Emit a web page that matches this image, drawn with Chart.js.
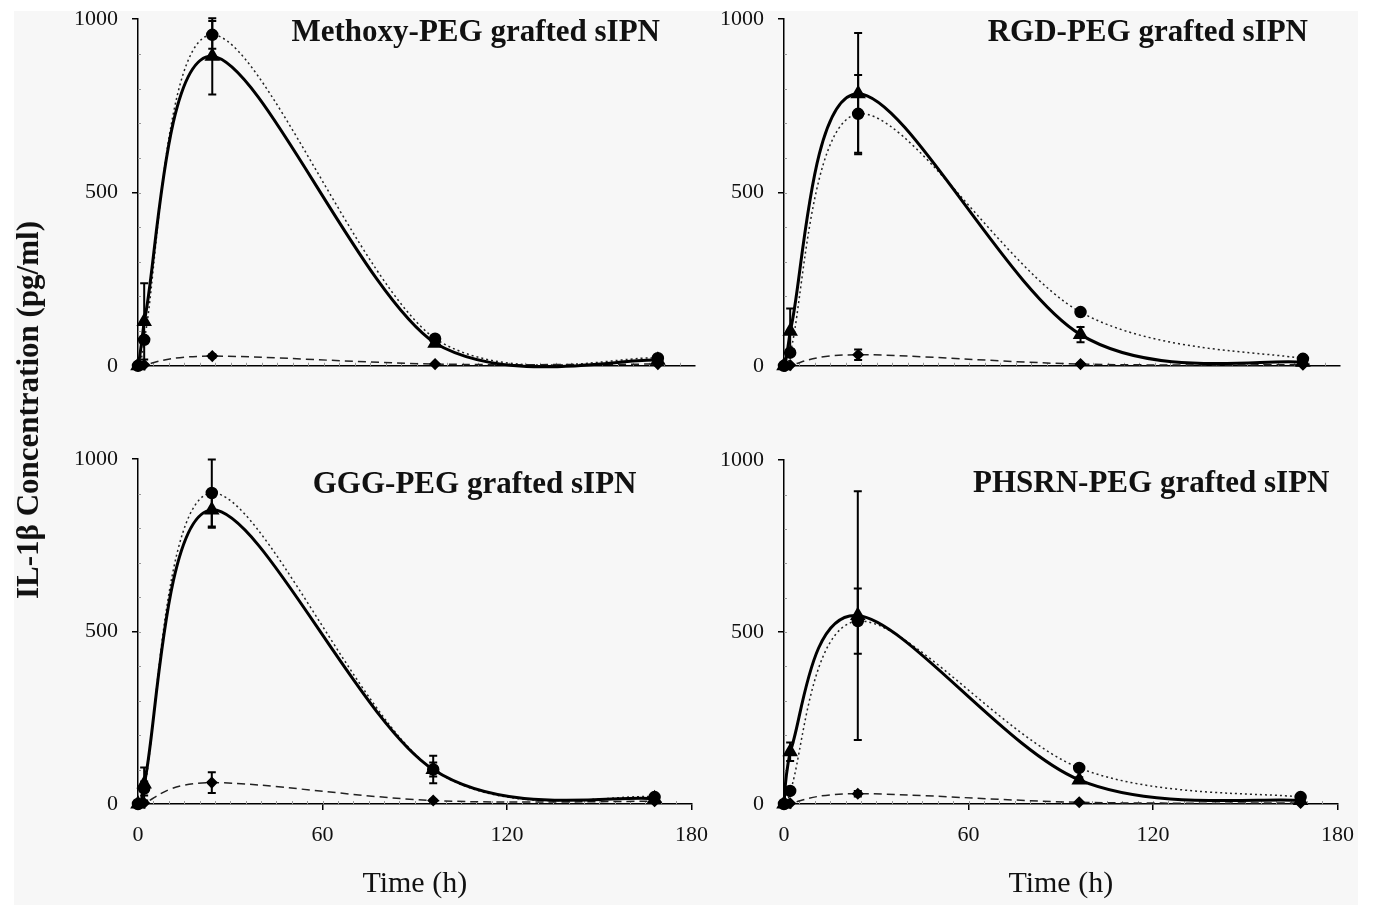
<!DOCTYPE html>
<html>
<head>
<meta charset="utf-8">
<title>IL-1β concentration over time</title>
<script src="https://cdn.jsdelivr.net/npm/chart.js@4.4.1/dist/chart.umd.min.js"></script>
<style>
  body { margin: 0; background: #fff; width: 1374px; height: 905px; overflow: hidden; position: relative; }
  #panel { position: absolute; left: 14px; top: 11px; width: 1344px; height: 894px; background: #f7f7f7; }
  canvas { position: absolute; }
  #yLabel {
    position: absolute; left: 28px; top: 410px;
    transform: translate(-50%, -50%) rotate(-90deg);
    font: bold 31px "Liberation Serif", "Times New Roman", serif;
    color: #111; white-space: nowrap;
  }
</style>
</head>
<body>
<div id="panel"></div>
<canvas id="chartTL" width="680" height="401" style="left:40px;top:-8px"></canvas>
<canvas id="chartTR" width="680" height="401" style="left:686px;top:-8px"></canvas>
<canvas id="chartBL" width="680" height="473" style="left:40px;top:432px"></canvas>
<canvas id="chartBR" width="680" height="472" style="left:686px;top:433px"></canvas>
<div id="yLabel">IL-1β Concentration (pg/ml)</div>

<script>
// sampling times (h) and axis ticks
const times = [0, 2, 24, 96, 168];
const xTicks = [0, 60, 120, 180];
const yTicks = [0, 500, 1000];
const titles = ['Methoxy-PEG grafted sIPN', 'RGD-PEG grafted sIPN', 'GGG-PEG grafted sIPN', 'PHSRN-PEG grafted sIPN'];

// Methoxy-PEG
const methoxyTri = [0, 128, 893, 65, 16];
const methoxyTriErr = [0, 110, 110, 8, 4];
const methoxyCirc = [0, 75, 955, 78, 22];
const methoxyCircErr = [0, 0, 40, 5, 3];
const methoxyDia = [0, 3, 28, 5, 5];
const methoxyDiaErr = [0, 2, 5, 2, 2];

// RGD-PEG
const rgdTri = [0, 100, 785, 90, 10];
const rgdTriErr = [0, 65, 175, 22, 3];
const rgdCirc = [0, 38, 727, 155, 20];
const rgdCircErr = [0, 10, 112, 8, 3];
const rgdDia = [0, 2, 32, 5, 3];
const rgdDiaErr = [0, 2, 15, 2, 1];

// GGG-PEG
const gggTri = [0, 58, 853, 100, 15];
const gggTriErr = [0, 48, 52, 40, 5];
const gggCirc = [0, 45, 902, 100, 20];
const gggCircErr = [0, 20, 97, 20, 5];
const gggDia = [0, 3, 62, 10, 8];
const gggDiaErr = [0, 2, 30, 3, 3];

// PHSRN-PEG
const phsrnTri = [0, 152, 548, 70, 10];
const phsrnTriErr = [0, 27, 362, 8, 3];
const phsrnCirc = [0, 38, 532, 105, 20];
const phsrnCircErr = [0, 5, 95, 5, 3];
const phsrnDia = [0, 2, 30, 5, 3];
const phsrnDiaErr = [0, 1, 8, 1, 1];

const serif = '"Liberation Serif", "Times New Roman", serif';

// spreadsheet-style smoothing: uniform Catmull-Rom control points on the line's own points
const smoothLines = {
    id: 'smoothLines',
    beforeDatasetDraw(chart, args) {
        const meta = args.meta;
        const pts = meta.data;
        const area = chart.chartArea;
        const cx = v => Math.min(Math.max(v, area.left), area.right);
        const cy = v => Math.min(Math.max(v, area.top), area.bottom + 20);
        pts.forEach((p, i) => {
            const prev = pts[i - 1] || p;
            const next = pts[i + 1] || p;
            const dx = (next.x - prev.x) / 6;
            const dy = (next.y - prev.y) / 6;
            p.cp1x = cx(p.x - dx); p.cp1y = cy(p.y - dy);
            p.cp2x = cx(p.x + dx); p.cp2y = cy(p.y + dy);
        });
        meta.dataset._pointsUpdated = true;
    }
};

// vertical error bars with caps
const errorBars = {
    id: 'errorBars',
    afterDatasetsDraw(chart) {
        const ctx = chart.ctx;
        const yScale = chart.scales.y;
        ctx.save();
        ctx.strokeStyle = '#000';
        ctx.lineWidth = 2;
        chart.data.datasets.forEach((ds, i) => {
            const meta = chart.getDatasetMeta(i);
            meta.data.forEach((pt, j) => {
                const e = ds.errors[j];
                if (!e) return;
                const v = ds.data[j].y;
                const top = yScale.getPixelForValue(v + e);
                const bot = yScale.getPixelForValue(Math.max(v - e, -40));
                ctx.beginPath();
                ctx.moveTo(pt.x, top); ctx.lineTo(pt.x, bot);
                ctx.moveTo(pt.x - 4, top); ctx.lineTo(pt.x + 4, top);
                ctx.moveTo(pt.x - 4, bot); ctx.lineTo(pt.x + 4, bot);
                ctx.stroke();
            });
        });
        ctx.restore();
    }
};

// small inward minor ticks on both axes
const minorTicks = {
    id: 'minorTicks',
    beforeDatasetsDraw(chart) {
        const ctx = chart.ctx;
        const { x, y } = chart.scales;
        const area = chart.chartArea;
        ctx.save();
        ctx.strokeStyle = '#999';
        ctx.lineWidth = 1;
        ctx.beginPath();
        for (let t = 5; t < 180; t += 5) {
            const px = Math.round(x.getPixelForValue(t)) + 0.5;
            ctx.moveTo(px, area.bottom); ctx.lineTo(px, area.bottom - 3);
        }
        for (let v = 100; v < 1000; v += 100) {
            const py = Math.round(y.getPixelForValue(v)) + 0.5;
            ctx.moveTo(area.left, py); ctx.lineTo(area.left + 3, py);
        }
        ctx.stroke();
        ctx.restore();
    }
};

// bold panel title inside the plot area
const panelTitle = {
    id: 'panelTitle',
    afterDraw(chart, args, opts) {
        const ctx = chart.ctx;
        const area = chart.chartArea;
        ctx.save();
        ctx.font = 'bold 31px ' + serif;
        ctx.fillStyle = '#111';
        ctx.textAlign = 'right';
        ctx.textBaseline = 'middle';
        ctx.fillText(opts.text, area.right - opts.dx, area.top + opts.dy);
        ctx.restore();
    }
};

function points(values) {
    return times.map((t, i) => ({ x: t, y: values[i] }));
}

function makeChart(id, title, tri, triErr, circ, circErr, dia, diaErr, layout) {
    const common = { borderColor: '#000', backgroundColor: '#000', pointBorderColor: '#000',
        pointBackgroundColor: '#000', tension: 0.4, clip: false, fill: false };
    new Chart(document.getElementById(id), {
        type: 'line',
        data: {
            datasets: [
                Object.assign({}, common, { label: 'triangle', data: points(tri), errors: triErr,
                    borderWidth: 3, pointStyle: 'triangle', pointRadius: 6 }),
                Object.assign({}, common, { label: 'circle', data: points(circ), errors: circErr,
                    borderWidth: 1.5, borderDash: [2, 3], borderColor: '#222', pointStyle: 'circle', pointRadius: 5.5 }),
                Object.assign({}, common, { label: 'diamond', data: points(dia), errors: diaErr,
                    borderWidth: 1.5, borderDash: [8, 5], borderColor: '#222', pointStyle: 'rectRot', pointRadius: 5 })
            ]
        },
        options: {
            responsive: false,
            animation: false,
            layout: { padding: { left: 0, right: layout.right, top: 18, bottom: 0 } },
            plugins: {
                legend: { display: false },
                tooltip: { enabled: false },
                panelTitle: { text: title, dx: layout.dx, dy: layout.dy }
            },
            scales: {
                x: {
                    type: 'linear', min: 0, max: 180,
                    afterBuildTicks: s => { s.ticks = xTicks.map(v => ({ value: v })); },
                    afterFit: s => { s.height = layout.xHeight; },
                    ticks: { display: layout.showX, font: { family: serif, size: 22 }, color: '#111', padding: 12,
                        maxRotation: 0, callback: v => String(v) },
                    grid: { drawOnChartArea: false, drawTicks: layout.showX, tickLength: 6, color: '#000', lineWidth: 1.5 },
                    border: { color: '#000', width: 1.5 },
                    title: { display: layout.showX, text: 'Time (h)', color: '#111',
                        font: { family: serif, size: 30 }, padding: { top: 0, bottom: 3 } }
                },
                y: {
                    min: 0, max: 1000,
                    afterBuildTicks: s => { s.ticks = yTicks.map(v => ({ value: v })); },
                    afterFit: s => { s.width = 98; },
                    ticks: { font: { family: serif, size: 22 }, color: '#111', padding: 14, callback: v => String(v) },
                    grid: { drawOnChartArea: false, tickLength: 6, color: '#000', lineWidth: 1.5 },
                    border: { color: '#000', width: 1.5 }
                }
            }
        },
        plugins: [smoothLines, minorTicks, errorBars, panelTitle]
    });
}

document.addEventListener('DOMContentLoaded', () => {
    makeChart('chartTL', titles[0], methoxyTri, methoxyTriErr, methoxyCirc, methoxyCircErr, methoxyDia, methoxyDiaErr,
        { right: 25, xHeight: 15, showX: false, dx: 35, dy: 14 });
    makeChart('chartTR', titles[1], rgdTri, rgdTriErr, rgdCirc, rgdCircErr, rgdDia, rgdDiaErr,
        { right: 26, xHeight: 15, showX: false, dx: 32, dy: 14 });
    makeChart('chartBL', titles[2], gggTri, gggTriErr, gggCirc, gggCircErr, gggDia, gggDiaErr,
        { right: 25, xHeight: 101, showX: true, dx: 55, dy: 26 });
    makeChart('chartBR', titles[3], phsrnTri, phsrnTriErr, phsrnCirc, phsrnCircErr, phsrnDia, phsrnDiaErr,
        { right: 26, xHeight: 101, showX: true, dx: 8, dy: 24 });
});
</script>
</body>
</html>
